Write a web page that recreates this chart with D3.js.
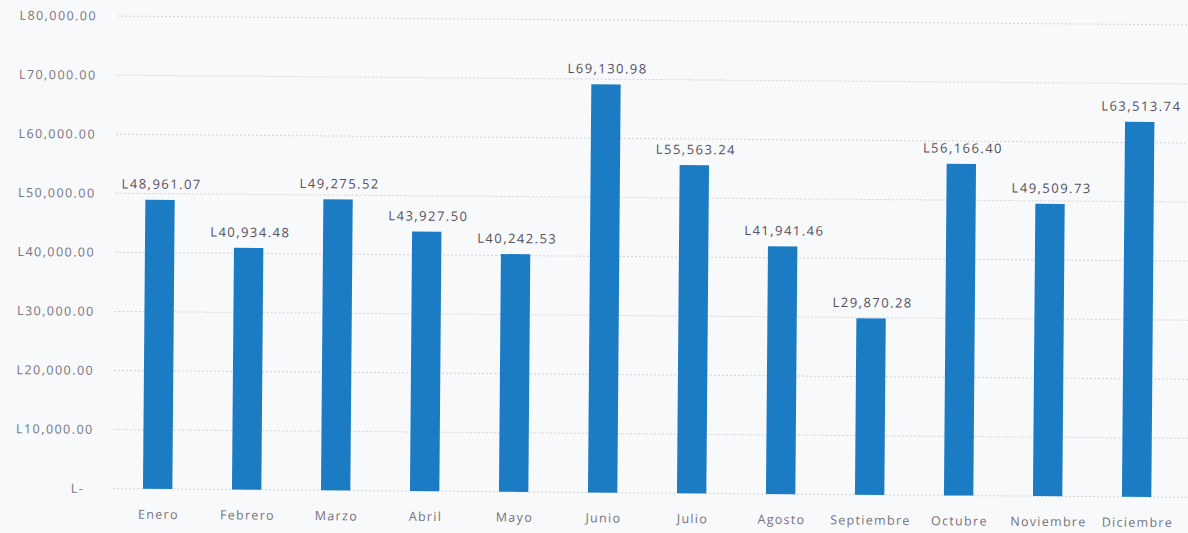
<!DOCTYPE html>
<html>
<head>
<meta charset="utf-8">
<script src="https://cdn.jsdelivr.net/npm/d3@7"></script>
<style>
  html, body { margin: 0; padding: 0; background: #f8f9fb; }
  svg { display: block; }
</style>
</head>
<body>
<svg id="chart" width="1188" height="533"></svg>
<script>
// Ventas mensuales (Lempiras)
const months = ["Enero", "Febrero", "Marzo", "Abril", "Mayo", "Junio", "Julio",
                "Agosto", "Septiembre", "Octubre", "Noviembre", "Diciembre"];
const sales = [48961.07, 40934.48, 49275.52, 43927.50, 40242.53, 69130.98, 55563.24,
               41941.46, 29870.28, 56166.40, 49509.73, 63513.74];
const yTicks = [0, 10000, 20000, 30000, 40000, 50000, 60000, 70000, 80000];

const W = 1188, H = 533;
const plot = { left: 115, right: 1186, top: 20, bottom: 492.5 };

const svg = d3.select("#chart");
// whole sheet sits slightly tilted
const g = svg.append("g")
  .attr("transform", `rotate(0.47, ${W / 2}, ${H / 2})`);

const x = d3.scaleBand()
  .domain(months)
  .range([plot.left, plot.right - 3])
  .paddingInner(0.67)
  .paddingOuter(0.335);

const y = d3.scaleLinear()
  .domain([0, 80000])
  .range([plot.bottom, plot.top]);

const money = d3.format(",.2f");
const fontFam = "'Open Sans', Lato, sans-serif";

// horizontal gridlines
g.append("g")
  .selectAll("line")
  .data(yTicks)
  .join("line")
  .attr("x1", plot.left)
  .attr("x2", plot.right + 10)
  .attr("y1", d => y(d))
  .attr("y2", d => y(d))
  .attr("stroke", "#d2d2d8")
  .attr("stroke-width", 1)
  .attr("stroke-dasharray", "2,2");

// y axis labels (accounting style: zero shown as "L-")
const yAxis = d3.axisLeft(y)
  .tickValues(yTicks)
  .tickSize(0)
  .tickPadding(0)
  .tickFormat(d => d === 0 ? "L-" : "L" + money(d));

const ya = g.append("g")
  .attr("transform", `translate(${plot.left - 20},0)`)
  .call(yAxis);
ya.select(".domain").remove();
ya.selectAll("text")
  .attr("dx", d => d === 0 ? -9 : 0)
  .attr("fill", "#77727e")
  .style("font-family", fontFam)
  .style("font-size", "12.5px")
  .style("letter-spacing", "1.45px");

// bars
g.append("g")
  .selectAll("rect")
  .data(months)
  .join("rect")
  .attr("x", d => x(d))
  .attr("width", x.bandwidth())
  .attr("y", (d, i) => y(sales[i]))
  .attr("height", (d, i) => y(0) - y(sales[i]))
  .attr("fill", "#1c7cc3");

// value labels
g.append("g")
  .selectAll("text")
  .data(months)
  .join("text")
  .attr("x", d => x(d) + x.bandwidth() / 2 + 1.5)
  .attr("y", (d, i) => y(sales[i]) - 11)
  .attr("text-anchor", "middle")
  .attr("fill", "#55505e")
  .style("font-family", fontFam)
  .style("font-size", "13px")
  .style("letter-spacing", "1.45px")
  .text((d, i) => "L" + money(sales[i]));

// category axis labels
const xAxis = d3.axisBottom(x).tickSize(0).tickPadding(0);
const xa = g.append("g")
  .attr("transform", `translate(0,${plot.bottom + 21})`)
  .call(xAxis);
xa.select(".domain").remove();
xa.selectAll("text")
  .attr("dx", "1")
  .attr("fill", "#77727e")
  .style("font-family", fontFam)
  .style("font-size", "12.5px")
  .style("letter-spacing", "1.3px");
</script>
</body>
</html>
